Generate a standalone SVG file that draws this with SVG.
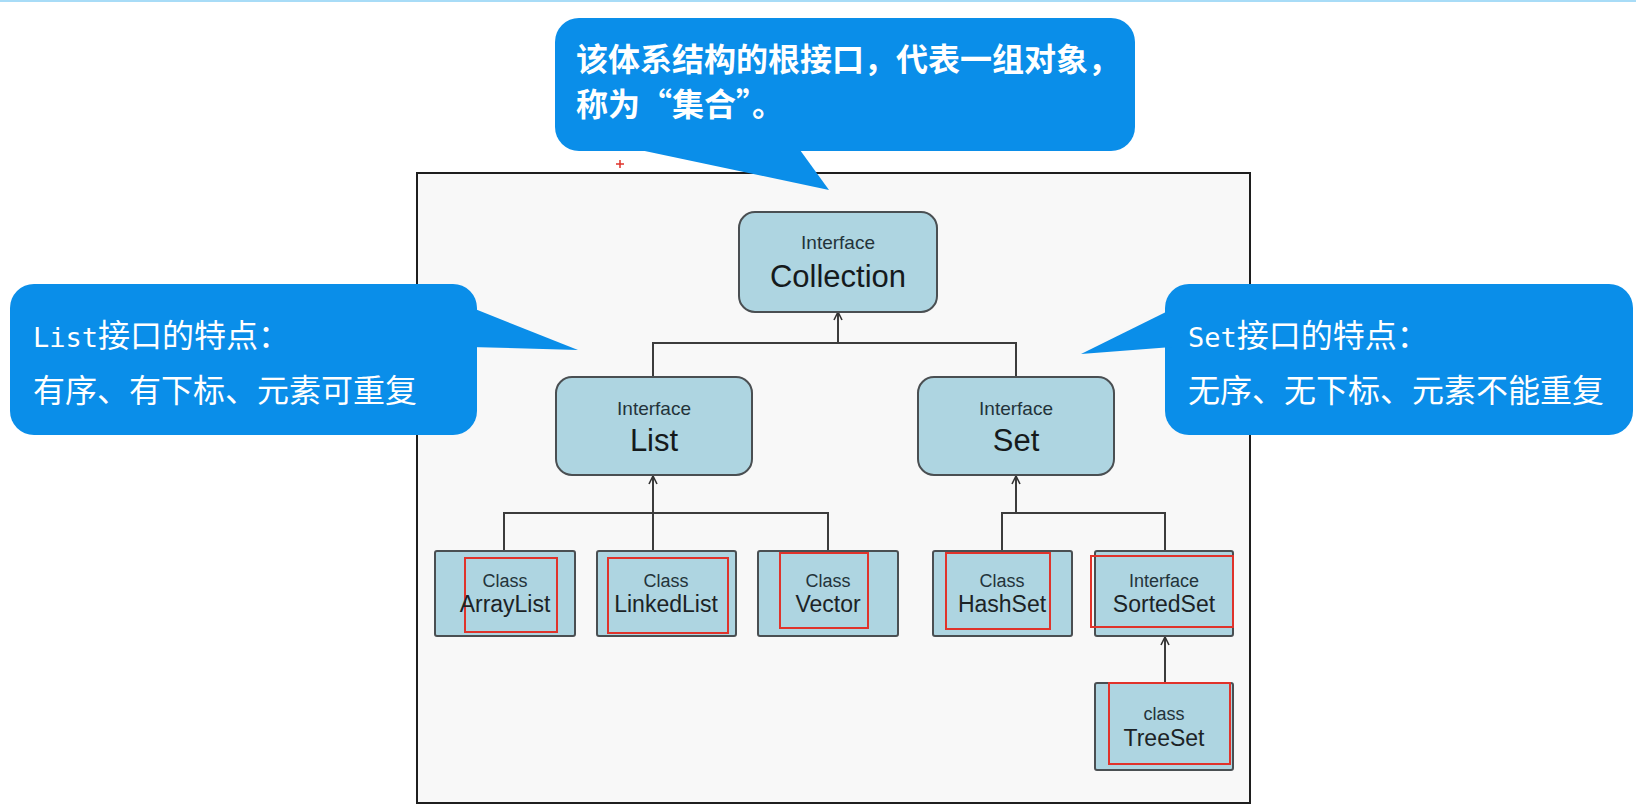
<svg xmlns="http://www.w3.org/2000/svg" width="1636" height="810" viewBox="0 0 1636 810">
<style>
.node{fill:#aed5e1;stroke:#4a4f52;stroke-width:2}
.red{fill:none;stroke:#e0332b;stroke-width:2}
.small{font-family:"Liberation Sans",Arial,sans-serif;font-size:18px;fill:#23333a;text-anchor:middle}
.name{font-family:"Liberation Sans",Arial,sans-serif;font-size:23px;fill:#1c2326;text-anchor:middle}
.ismall{font-family:"Liberation Sans",Arial,sans-serif;font-size:19px;fill:#23333a;text-anchor:middle}
.iname{font-family:"Liberation Sans",Arial,sans-serif;font-size:31px;fill:#151a1c;text-anchor:middle}
.bubble{fill:#0a8ee9}
.btext{font-family:"Noto Sans CJK SC","Noto Sans",sans-serif;font-size:32px;fill:#ffffff}
.conn{fill:none;stroke:#3c3c3c;stroke-width:2}
</style>
<defs>
<marker id="arr" viewBox="0 0 10 10" refX="9" refY="5" markerWidth="10" markerHeight="10" markerUnits="userSpaceOnUse" orient="auto">
<path d="M1,1 L9,5 L1,9" fill="none" stroke="#333" stroke-width="1.6"/>
</marker>
</defs>
<rect x="0" y="0" width="1636" height="2" fill="#a8dcf7"/>
<rect id="frame" x="417" y="173" width="833" height="630" fill="#f8f8f8" stroke="#1e1e1e" stroke-width="2"/>
<path d="M616,164 H624 M620,160 V168" stroke="#e0332b" stroke-width="1.5"/>

<g id="connectors">
<path class="conn" d="M653,377 V343 H1016 V377"/>
<path class="conn" d="M838,343 V312" marker-end="url(#arr)"/>
<path class="conn" d="M653,551 V476" marker-end="url(#arr)"/>
<path class="conn" d="M504,551 V513 H828 V551"/>
<path class="conn" d="M1016,513 V476" marker-end="url(#arr)"/>
<path class="conn" d="M1002,551 V513 H1165 V551"/>
<path class="conn" d="M1165,683 V637" marker-end="url(#arr)"/>
</g>

<g id="collection">
<rect class="node" x="739" y="212" width="198" height="100" rx="16"/>
<text class="ismall" x="838" y="249">Interface</text>
<text class="iname" x="838" y="287">Collection</text>
</g>
<g id="list">
<rect class="node" x="556" y="377" width="196" height="98" rx="16"/>
<text class="ismall" x="654" y="415">Interface</text>
<text class="iname" x="654" y="451">List</text>
</g>
<g id="set">
<rect class="node" x="918" y="377" width="196" height="98" rx="16"/>
<text class="ismall" x="1016" y="415">Interface</text>
<text class="iname" x="1016" y="451">Set</text>
</g>

<g id="arraylist">
<rect class="node" x="435" y="551" width="140" height="85" rx="2"/>
<rect class="red" x="465" y="558" width="92" height="74"/>
<text class="small" x="505" y="587">Class</text>
<text class="name" x="505" y="612">ArrayList</text>
</g>
<g id="linkedlist">
<rect class="node" x="597" y="551" width="139" height="85" rx="2"/>
<rect class="red" x="608" y="558" width="120" height="75"/>
<text class="small" x="666" y="587">Class</text>
<text class="name" x="666" y="612">LinkedList</text>
</g>
<g id="vector">
<rect class="node" x="758" y="551" width="140" height="85" rx="2"/>
<rect class="red" x="780" y="553" width="88" height="75"/>
<text class="small" x="828" y="587">Class</text>
<text class="name" x="828" y="612">Vector</text>
</g>
<g id="hashset">
<rect class="node" x="933" y="551" width="139" height="85" rx="2"/>
<rect class="red" x="946" y="553" width="104" height="76"/>
<text class="small" x="1002" y="587">Class</text>
<text class="name" x="1002" y="612">HashSet</text>
</g>
<g id="sortedset">
<rect class="node" x="1095" y="551" width="138" height="85" rx="2"/>
<rect class="red" x="1091" y="556" width="142" height="71"/>
<text class="small" x="1164" y="587">Interface</text>
<text class="name" x="1164" y="612">SortedSet</text>
</g>
<g id="treeset">
<rect class="node" x="1095" y="683" width="138" height="87" rx="2"/>
<rect class="red" x="1109" y="683" width="121" height="81"/>
<text class="small" x="1164" y="720">class</text>
<text class="name" x="1164" y="746">TreeSet</text>
</g>

<g id="bubble-top">
<rect class="bubble" x="555" y="18" width="580" height="133" rx="24"/>
<polygon class="bubble" points="640,150 829,190 800,150"/>
<text class="btext" font-weight="bold" x="576" y="71">该体系结构的根接口，代表一组对象，</text>
<text class="btext" font-weight="bold" x="576" y="116">称为“集合”。</text>
</g>
<g id="bubble-list">
<rect class="bubble" x="10" y="284" width="467" height="151" rx="24"/>
<polygon class="bubble" points="470,307 578,350 470,347"/>
<text class="btext" x="33" y="347"><tspan font-family="DejaVu Sans Mono" font-size="27">List</tspan>接口的特点：</text>
<text class="btext" x="33" y="402">有序、有下标、元素可重复</text>
</g>
<g id="bubble-set">
<rect class="bubble" x="1165" y="284" width="468" height="151" rx="24"/>
<polygon class="bubble" points="1172,309 1081,354 1172,347"/>
<text class="btext" x="1188" y="347"><tspan font-family="DejaVu Sans Mono" font-size="27">Set</tspan>接口的特点：</text>
<text class="btext" x="1188" y="402">无序、无下标、元素不能重复</text>
</g>
</svg>
